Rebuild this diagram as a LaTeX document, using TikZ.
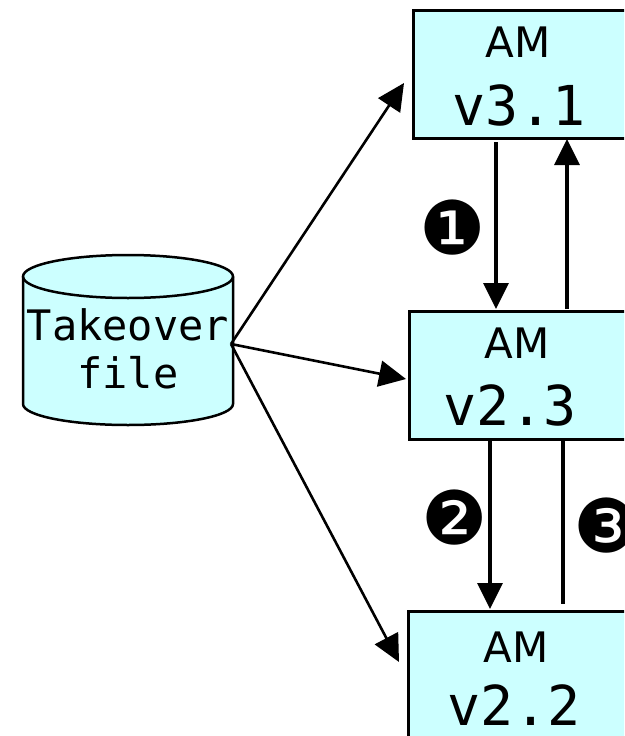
\documentclass[tikz,border=0pt]{standalone}
\usepackage{fontspec}
\setmainfont{DejaVu Sans}
\newfontfamily\monofont{DejaVu Sans Mono}
\newfontfamily\dingfont{DejaVu Sans}
\usetikzlibrary{arrows.meta}
\definecolor{boxfill}{HTML}{CCFFFF}
\tikzset{
  ambox/.style={draw=black, line width=2.5pt, fill=boxfill, inner sep=0pt, anchor=north west},
  amtext/.style={font=\fontsize{42}{42}\selectfont, anchor=base, inner sep=0pt},
  vertext/.style={font=\monofont\fontsize{55}{55}\selectfont, anchor=base, inner sep=0pt},
  flow/.style={line width=2.6pt, -{Triangle[length=27pt, width=26pt]}},
  vflow/.style={line width=3.2pt, -{Triangle[length=26pt, width=25pt]}},
  plainline/.style={line width=3.2pt},
  stepmark/.style={font=\dingfont\fontsize{74}{74}\selectfont, inner sep=0pt, anchor=center}
}
\begin{document}
\begin{tikzpicture}[x=1pt, y=-1pt]
  \useasboundingbox (0,0) rectangle (624,736);
  \clip (0,0) rectangle (624,736);

  % takeover file drum
  \fill[boxfill] (23,276.5) -- (23,404)
    arc[start angle=180, end angle=360, x radius=105pt, y radius=21pt]
    -- (233,276.5)
    arc[start angle=0, end angle=180, x radius=105pt, y radius=21.5pt] -- cycle;
  \draw[line width=2.5pt] (23,276.5) -- (23,404)
    arc[start angle=180, end angle=360, x radius=105pt, y radius=21pt]
    -- (233,276.5);
  \draw[line width=2.5pt] (128,276.5) ellipse [x radius=105pt, y radius=21.5pt];
  \node[font=\monofont\fontsize{42}{48}\selectfont, align=center, inner sep=0pt, anchor=base]
    (takeover) at (128,388) {Takeover\\file};
  \coordinate (src) at (231,344);

  % AM boxes
  \node[ambox, minimum width=216pt, minimum height=128pt] (v31box) at (412,9) {};
  \node[amtext] (v31am) at (518,57) {AM};
  \node[vertext] (v31ver) at (519,125) {v3.1};

  \node[ambox, minimum width=220pt, minimum height=128pt] (v23box) at (408,310) {};
  \node[amtext] (v23am) at (517,358) {AM};
  \node[vertext] (v23ver) at (510,425) {v2.3};

  \node[ambox, minimum width=220pt, minimum height=140pt] (v22box) at (407,610) {};
  \node[amtext] (v22am) at (516,662) {AM};
  \node[vertext] (v22ver) at (514,725) {v2.2};

  % fan-out from the takeover file
  \coordinate (t31) at (404,83);
  \coordinate (t23) at (406,379);
  \coordinate (t22) at (399,662);
  \draw[flow] (src) -- (t31);
  \draw[flow] (src) -- (t23);
  \draw[flow] (src) -- (t22);

  % version steps
  \coordinate (a1s) at (496,142);
  \coordinate (a1e) at (496,309);
  \coordinate (b1s) at (567,309);
  \coordinate (b1e) at (567,139);
  \coordinate (a2s) at (490,441);
  \coordinate (a2e) at (490,609);
  \coordinate (b2s) at (563,440);
  \coordinate (b2e) at (563,604);
  \draw[vflow] (a1s) -- (a1e);
  \draw[vflow] (b1s) -- (b1e);
  \draw[vflow] (a2s) -- (a2e);
  \draw[plainline] (b2s) -- (b2e);

  \node[stepmark] (n1) at (453,228) {❶};
  \node[stepmark] (n2) at (455,518) {❷};
  \node[stepmark] (n3) at (607,526) {❸};
\end{tikzpicture}
\end{document}
